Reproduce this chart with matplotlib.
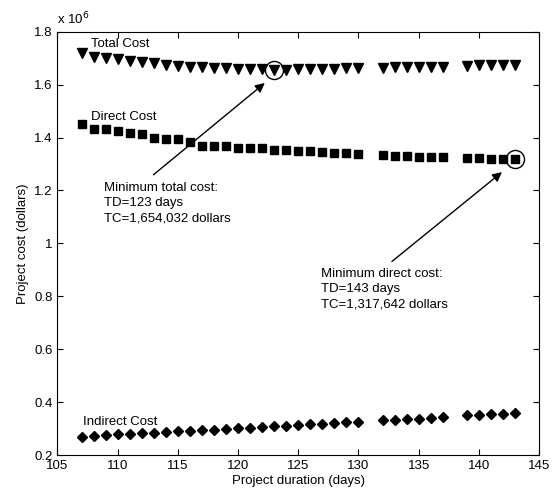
import matplotlib
matplotlib.use('Agg')
import matplotlib.pyplot as plt
from matplotlib.ticker import FormatStrFormatter

plt.rcParams['font.family'] = ['Liberation Sans', 'DejaVu Sans']

# project duration (days)
days = [107, 108, 109, 110, 111, 112, 113, 114, 115, 116, 117, 118,
        119, 120, 121, 122, 123, 124, 125, 126, 127, 128, 129, 130,
        132, 133, 134, 135, 136, 137,
        139, 140, 141, 142, 143]

# costs in millions of dollars
total_cost = [1.718, 1.703, 1.700, 1.697, 1.688, 1.686, 1.682, 1.674, 1.672, 1.668, 1.666, 1.664,
              1.663, 1.661, 1.660, 1.658, 1.654, 1.657, 1.658, 1.659, 1.660, 1.661, 1.662, 1.663,
              1.664, 1.665, 1.666, 1.667, 1.668, 1.668,
              1.672, 1.673, 1.674, 1.675, 1.676]
direct_cost = [1.453, 1.433, 1.432, 1.426, 1.417, 1.413, 1.397, 1.396, 1.394, 1.383, 1.370, 1.368,
               1.367, 1.362, 1.360, 1.359, 1.353, 1.352, 1.351, 1.348, 1.345, 1.342, 1.340, 1.337,
               1.333, 1.331, 1.330, 1.328, 1.327, 1.326,
               1.322, 1.321, 1.320, 1.319, 1.3176]
indirect_cost = [0.267, 0.271, 0.274, 0.278, 0.280, 0.283, 0.285, 0.286, 0.289, 0.291, 0.293, 0.296,
                 0.298, 0.301, 0.303, 0.306, 0.308, 0.311, 0.313, 0.316, 0.318, 0.320, 0.323, 0.326,
                 0.332, 0.334, 0.336, 0.338, 0.340, 0.342,
                 0.350, 0.352, 0.354, 0.356, 0.358]

min_total = (123, 1.654032)
min_direct = (143, 1.317642)

fs = 9.5

fig = plt.figure(figsize=(5.58, 4.91), dpi=100)
ax = fig.add_axes([0.103, 0.0733, 0.863, 0.862])

ax.plot(days, total_cost, 'kv', markersize=6.5, linestyle='none')
ax.plot(days, direct_cost, 'ks', markersize=6, linestyle='none')
ax.plot(days, indirect_cost, 'kD', markersize=5.5, linestyle='none')

# circles round the minima
for px, py in (min_total, min_direct):
    ax.plot(px, py, 'o', markersize=13, markerfacecolor='none',
            markeredgecolor='k', markeredgewidth=1.0)

ax.text(107.75, 1.755, 'Total Cost', fontsize=fs, va='center')
ax.text(107.75, 1.479, 'Direct Cost', fontsize=fs, va='center')
ax.text(107.1, 0.326, 'Indirect Cost', fontsize=fs, va='center')

ax.annotate('', xy=(122.4, 1.613), xytext=(112.8, 1.253),
            arrowprops=dict(arrowstyle='-|>', color='k', lw=1.0, mutation_scale=14))
ax.text(108.9, 1.232, 'Minimum total cost:\nTD=123 days\nTC=1,654,032 dollars',
        fontsize=fs, va='top', linespacing=1.35)

ax.annotate('', xy=(142.1, 1.276), xytext=(132.6, 0.925),
            arrowprops=dict(arrowstyle='-|>', color='k', lw=1.0, mutation_scale=14))
ax.text(126.9, 0.906, 'Minimum direct cost:\nTD=143 days\nTC=1,317,642 dollars',
        fontsize=fs, va='top', linespacing=1.35)

ax.set_xlim(105, 145)
ax.set_ylim(0.2, 1.8)
ax.set_xticks(range(105, 146, 5))
ax.set_yticks([0.2, 0.4, 0.6, 0.8, 1.0, 1.2, 1.4, 1.6, 1.8])
ax.yaxis.set_major_formatter(FormatStrFormatter('%g'))
ax.tick_params(direction='in', top=True, right=True, labelsize=fs, length=4)

ax.set_xlabel('Project duration (days)', fontsize=fs, labelpad=2)
ax.set_ylabel('Project cost (dollars)', fontsize=fs, labelpad=4)
ax.text(0.0, 1.01, 'x 10$^6$', transform=ax.transAxes, fontsize=fs, va='bottom')

fig.savefig('out.png', dpi=100)
